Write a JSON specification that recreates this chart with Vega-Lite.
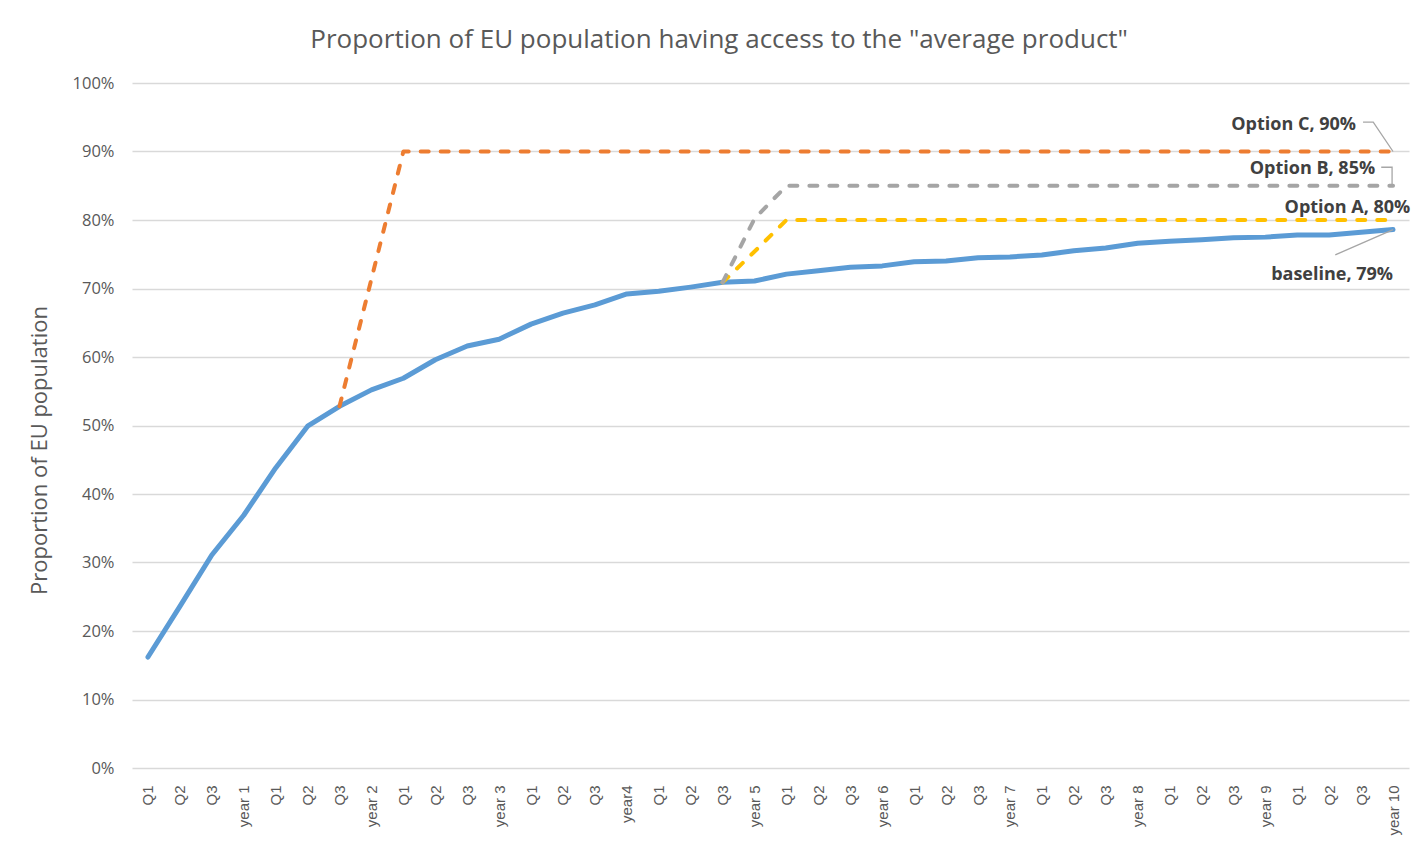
{
  "$schema": "https://vega.github.io/schema/vega-lite/v6.json",
  "width": 1277,
  "height": 685,
  "autosize": {"type": "none"},
  "padding": {"left": 132, "top": 83, "right": 7, "bottom": 80},
  "background": "white",
  "title": {
    "text": "Proportion of EU population having access to the \"average product\"",
    "font": "Open Sans",
    "fontSize": 26,
    "fontWeight": "normal",
    "color": "#595959",
    "anchor": "middle",
    "frame": "bounds",
    "offset": 22
  },
  "config": {
    "view": {"stroke": null},
    "axis": {"labelColor": "#595959", "titleColor": "#595959"}
  },
  "datasets": {
    "series": [
      {"i": 0, "period": "Q1", "series": "baseline", "value": 16.2},
      {"i": 1, "period": "Q2", "series": "baseline", "value": 23.6},
      {"i": 2, "period": "Q3", "series": "baseline", "value": 31.1},
      {"i": 3, "period": "year 1", "series": "baseline", "value": 36.9},
      {"i": 4, "period": "Q1", "series": "baseline", "value": 43.8},
      {"i": 5, "period": "Q2", "series": "baseline", "value": 49.9},
      {"i": 6, "period": "Q3", "series": "baseline", "value": 52.8},
      {"i": 7, "period": "year 2", "series": "baseline", "value": 55.2},
      {"i": 8, "period": "Q1", "series": "baseline", "value": 56.9},
      {"i": 9, "period": "Q2", "series": "baseline", "value": 59.6},
      {"i": 10, "period": "Q3", "series": "baseline", "value": 61.6},
      {"i": 11, "period": "year 3", "series": "baseline", "value": 62.6},
      {"i": 12, "period": "Q1", "series": "baseline", "value": 64.8},
      {"i": 13, "period": "Q2", "series": "baseline", "value": 66.4},
      {"i": 14, "period": "Q3", "series": "baseline", "value": 67.6},
      {"i": 15, "period": "year4", "series": "baseline", "value": 69.2},
      {"i": 16, "period": "Q1", "series": "baseline", "value": 69.6},
      {"i": 17, "period": "Q2", "series": "baseline", "value": 70.2},
      {"i": 18, "period": "Q3", "series": "baseline", "value": 70.9},
      {"i": 19, "period": "year 5", "series": "baseline", "value": 71.1},
      {"i": 20, "period": "Q1", "series": "baseline", "value": 72.1},
      {"i": 21, "period": "Q2", "series": "baseline", "value": 72.6},
      {"i": 22, "period": "Q3", "series": "baseline", "value": 73.1},
      {"i": 23, "period": "year 6", "series": "baseline", "value": 73.3},
      {"i": 24, "period": "Q1", "series": "baseline", "value": 73.9},
      {"i": 25, "period": "Q2", "series": "baseline", "value": 74.0},
      {"i": 26, "period": "Q3", "series": "baseline", "value": 74.5},
      {"i": 27, "period": "year 7", "series": "baseline", "value": 74.6},
      {"i": 28, "period": "Q1", "series": "baseline", "value": 74.9},
      {"i": 29, "period": "Q2", "series": "baseline", "value": 75.5},
      {"i": 30, "period": "Q3", "series": "baseline", "value": 75.9},
      {"i": 31, "period": "year 8", "series": "baseline", "value": 76.6},
      {"i": 32, "period": "Q1", "series": "baseline", "value": 76.9},
      {"i": 33, "period": "Q2", "series": "baseline", "value": 77.1},
      {"i": 34, "period": "Q3", "series": "baseline", "value": 77.4},
      {"i": 35, "period": "year 9", "series": "baseline", "value": 77.5},
      {"i": 36, "period": "Q1", "series": "baseline", "value": 77.8},
      {"i": 37, "period": "Q2", "series": "baseline", "value": 77.8},
      {"i": 38, "period": "Q3", "series": "baseline", "value": 78.2},
      {"i": 39, "period": "year 10", "series": "baseline", "value": 78.6},

      {"i": 18, "period": "Q3", "series": "Option A", "value": 70.9},
      {"i": 19, "period": "year 5", "series": "Option A", "value": 75.4},
      {"i": 20, "period": "Q1", "series": "Option A", "value": 80},
      {"i": 21, "period": "Q2", "series": "Option A", "value": 80},
      {"i": 22, "period": "Q3", "series": "Option A", "value": 80},
      {"i": 23, "period": "year 6", "series": "Option A", "value": 80},
      {"i": 24, "period": "Q1", "series": "Option A", "value": 80},
      {"i": 25, "period": "Q2", "series": "Option A", "value": 80},
      {"i": 26, "period": "Q3", "series": "Option A", "value": 80},
      {"i": 27, "period": "year 7", "series": "Option A", "value": 80},
      {"i": 28, "period": "Q1", "series": "Option A", "value": 80},
      {"i": 29, "period": "Q2", "series": "Option A", "value": 80},
      {"i": 30, "period": "Q3", "series": "Option A", "value": 80},
      {"i": 31, "period": "year 8", "series": "Option A", "value": 80},
      {"i": 32, "period": "Q1", "series": "Option A", "value": 80},
      {"i": 33, "period": "Q2", "series": "Option A", "value": 80},
      {"i": 34, "period": "Q3", "series": "Option A", "value": 80},
      {"i": 35, "period": "year 9", "series": "Option A", "value": 80},
      {"i": 36, "period": "Q1", "series": "Option A", "value": 80},
      {"i": 37, "period": "Q2", "series": "Option A", "value": 80},
      {"i": 38, "period": "Q3", "series": "Option A", "value": 80},
      {"i": 39, "period": "year 10", "series": "Option A", "value": 80},

      {"i": 18, "period": "Q3", "series": "Option B", "value": 70.9},
      {"i": 19, "period": "year 5", "series": "Option B", "value": 80.2},
      {"i": 20, "period": "Q1", "series": "Option B", "value": 85},
      {"i": 21, "period": "Q2", "series": "Option B", "value": 85},
      {"i": 22, "period": "Q3", "series": "Option B", "value": 85},
      {"i": 23, "period": "year 6", "series": "Option B", "value": 85},
      {"i": 24, "period": "Q1", "series": "Option B", "value": 85},
      {"i": 25, "period": "Q2", "series": "Option B", "value": 85},
      {"i": 26, "period": "Q3", "series": "Option B", "value": 85},
      {"i": 27, "period": "year 7", "series": "Option B", "value": 85},
      {"i": 28, "period": "Q1", "series": "Option B", "value": 85},
      {"i": 29, "period": "Q2", "series": "Option B", "value": 85},
      {"i": 30, "period": "Q3", "series": "Option B", "value": 85},
      {"i": 31, "period": "year 8", "series": "Option B", "value": 85},
      {"i": 32, "period": "Q1", "series": "Option B", "value": 85},
      {"i": 33, "period": "Q2", "series": "Option B", "value": 85},
      {"i": 34, "period": "Q3", "series": "Option B", "value": 85},
      {"i": 35, "period": "year 9", "series": "Option B", "value": 85},
      {"i": 36, "period": "Q1", "series": "Option B", "value": 85},
      {"i": 37, "period": "Q2", "series": "Option B", "value": 85},
      {"i": 38, "period": "Q3", "series": "Option B", "value": 85},
      {"i": 39, "period": "year 10", "series": "Option B", "value": 85},

      {"i": 6, "period": "Q3", "series": "Option C", "value": 52.8},
      {"i": 7, "period": "year 2", "series": "Option C", "value": 71.4},
      {"i": 8, "period": "Q1", "series": "Option C", "value": 90},
      {"i": 9, "period": "Q2", "series": "Option C", "value": 90},
      {"i": 10, "period": "Q3", "series": "Option C", "value": 90},
      {"i": 11, "period": "year 3", "series": "Option C", "value": 90},
      {"i": 12, "period": "Q1", "series": "Option C", "value": 90},
      {"i": 13, "period": "Q2", "series": "Option C", "value": 90},
      {"i": 14, "period": "Q3", "series": "Option C", "value": 90},
      {"i": 15, "period": "year4", "series": "Option C", "value": 90},
      {"i": 16, "period": "Q1", "series": "Option C", "value": 90},
      {"i": 17, "period": "Q2", "series": "Option C", "value": 90},
      {"i": 18, "period": "Q3", "series": "Option C", "value": 90},
      {"i": 19, "period": "year 5", "series": "Option C", "value": 90},
      {"i": 20, "period": "Q1", "series": "Option C", "value": 90},
      {"i": 21, "period": "Q2", "series": "Option C", "value": 90},
      {"i": 22, "period": "Q3", "series": "Option C", "value": 90},
      {"i": 23, "period": "year 6", "series": "Option C", "value": 90},
      {"i": 24, "period": "Q1", "series": "Option C", "value": 90},
      {"i": 25, "period": "Q2", "series": "Option C", "value": 90},
      {"i": 26, "period": "Q3", "series": "Option C", "value": 90},
      {"i": 27, "period": "year 7", "series": "Option C", "value": 90},
      {"i": 28, "period": "Q1", "series": "Option C", "value": 90},
      {"i": 29, "period": "Q2", "series": "Option C", "value": 90},
      {"i": 30, "period": "Q3", "series": "Option C", "value": 90},
      {"i": 31, "period": "year 8", "series": "Option C", "value": 90},
      {"i": 32, "period": "Q1", "series": "Option C", "value": 90},
      {"i": 33, "period": "Q2", "series": "Option C", "value": 90},
      {"i": 34, "period": "Q3", "series": "Option C", "value": 90},
      {"i": 35, "period": "year 9", "series": "Option C", "value": 90},
      {"i": 36, "period": "Q1", "series": "Option C", "value": 90},
      {"i": 37, "period": "Q2", "series": "Option C", "value": 90},
      {"i": 38, "period": "Q3", "series": "Option C", "value": 90},
      {"i": 39, "period": "year 10", "series": "Option C", "value": 90}
    ],
    "leaders": [
      {"leader": "C", "step": 0, "i": 38.06, "value": 94.3},
      {"leader": "C", "step": 1, "i": 38.38, "value": 94.3},
      {"leader": "C", "step": 2, "i": 39, "value": 90},
      {"leader": "B", "step": 0, "i": 38.63, "value": 87.7},
      {"leader": "B", "step": 1, "i": 38.97, "value": 87.7},
      {"leader": "B", "step": 2, "i": 38.97, "value": 85},
      {"leader": "base", "step": 0, "i": 37.19, "value": 74.9},
      {"leader": "base", "step": 1, "i": 39, "value": 78.6}
    ],
    "labels": [
      {"text": "Option C, 90%", "i": 37.84, "value": 93.9},
      {"text": "Option B, 85%", "i": 38.44, "value": 87.4},
      {"text": "Option A, 80%", "i": 39.54, "value": 81.7},
      {"text": "baseline, 79%", "i": 39.0, "value": 72.0}
    ]
  },
  "encoding": {
    "x": {
      "field": "i",
      "type": "quantitative",
      "scale": {"domain": [-0.5, 39.5], "nice": false, "zero": false},
      "axis": {
        "title": null,
        "values": [0,1,2,3,4,5,6,7,8,9,10,11,12,13,14,15,16,17,18,19,20,21,22,23,24,25,26,27,28,29,30,31,32,33,34,35,36,37,38,39],
        "labelExpr": "['Q1','Q2','Q3','year 1','Q1','Q2','Q3','year 2','Q1','Q2','Q3','year 3','Q1','Q2','Q3','year4','Q1','Q2','Q3','year 5','Q1','Q2','Q3','year 6','Q1','Q2','Q3','year 7','Q1','Q2','Q3','year 8','Q1','Q2','Q3','year 9','Q1','Q2','Q3','year 10'][datum.value]",
        "labelAngle": -90,
        "labelAlign": "right",
        "labelBaseline": "middle",
        "labelFont": "Liberation Sans",
        "labelFontSize": 15,
        "labelPadding": 17,
        "labelOverlap": false,
        "labelFlush": false,
        "labelBound": false,
        "grid": false,
        "domain": false,
        "ticks": false
      }
    },
    "y": {
      "field": "value",
      "type": "quantitative",
      "scale": {"domain": [0, 100], "nice": false},
      "axis": {
        "title": "Proportion of EU population",
        "titleFont": "Open Sans",
        "titleFontSize": 22,
        "titleFontWeight": "normal",
        "titleX": -81,
        "titleY": 367,
        "values": [0, 10, 20, 30, 40, 50, 60, 70, 80, 90, 100],
        "labelExpr": "datum.value + '%'",
        "labelFont": "Open Sans",
        "labelFontSize": 16.5,
        "labelPadding": 18,
        "grid": true,
        "gridColor": "#d9d9d9",
        "gridWidth": 1.5,
        "domain": false,
        "ticks": false
      }
    }
  },
  "layer": [
    {
      "data": {"name": "series"},
      "transform": [{"filter": "datum.series === 'baseline'"}],
      "mark": {"type": "line", "strokeWidth": 5, "strokeCap": "round", "strokeJoin": "round", "color": "#5B9BD5"}
    },
    {
      "data": {"name": "series"},
      "transform": [{"filter": "datum.series !== 'baseline'"}],
      "mark": {"type": "line", "strokeWidth": 4, "strokeCap": "round", "strokeJoin": "round", "strokeDash": [8, 12]},
      "encoding": {
        "color": {
          "field": "series",
          "type": "nominal",
          "scale": {"domain": ["Option A", "Option B", "Option C"], "range": ["#FFC000", "#A5A5A5", "#ED7D31"]},
          "legend": null
        }
      }
    },
    {
      "data": {"name": "leaders"},
      "mark": {"type": "line", "color": "#A6A6A6", "strokeWidth": 1.3, "clip": false},
      "encoding": {
        "detail": {"field": "leader"},
        "order": {"field": "step"}
      }
    },
    {
      "data": {"name": "labels"},
      "mark": {"type": "text", "align": "right", "baseline": "middle", "font": "Open Sans", "fontWeight": "bold", "fontSize": 18, "color": "#404040", "clip": false},
      "encoding": {
        "text": {"field": "text"}
      }
    }
  ]
}
